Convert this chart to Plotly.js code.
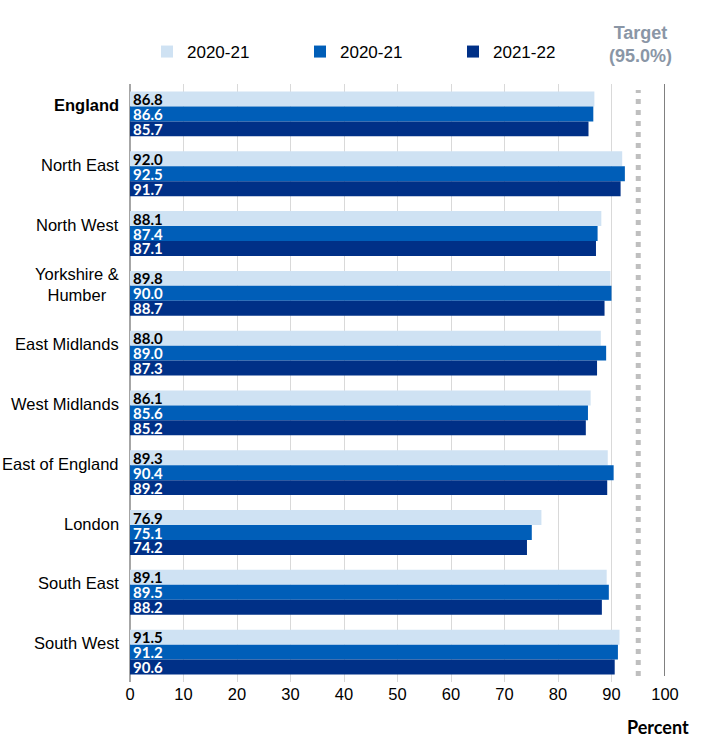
<!DOCTYPE html>
<html><head><meta charset="utf-8">
<script src="https://cdn.plot.ly/plotly-3.0.1.min.js"></script>
<style>html,body{margin:0;padding:0;background:#fff}</style>
</head><body>
<div id="chart" style="width:711px;height:748px"></div>
<script>
const regions = ["England","North East","North West","Yorkshire & Humber","East Midlands","West Midlands","East of England","London","South East","South West"];
const regionLabels = ["<b>England</b>","North East","North West","Yorkshire &<br>Humber","East Midlands","West Midlands","East of England","London","South East","South West"];
const seriesNames = ["2020-21","2020-21","2021-22"];
const valuesA = [86.8,92.0,88.1,89.8,88.0,86.1,89.3,76.9,89.1,91.5];
const valuesB = [86.6,92.5,87.4,90.0,89.0,85.6,90.4,75.1,89.5,91.2];
const valuesC = [85.7,91.7,87.1,88.7,87.3,85.2,89.2,74.2,88.2,90.6];
const xTicks = [0,10,20,30,40,50,60,70,80,90,100];
const targetValue = 95;
const maxValue = 100;

const colors = ["#cfe2f3","#005eb8","#003087"];
const textColors = ["#000000","#ffffff","#ffffff"];
const allVals = [valuesA, valuesB, valuesC];

const traces = allVals.map((v,i)=>({
  type:'bar', orientation:'h', y:regions, x:v, name:seriesNames[i],
  marker:{color:colors[i]},
  text:v.map(d=>d.toFixed(1)), textposition:'inside', insidetextanchor:'start',
  constraintext:'none', cliponaxis:false,
  insidetextfont:{family:'Lato, "Liberation Sans", Arial', size:15, color:textColors[i], weight:'bold'},
  hoverinfo:'x+y'
}));

const annotations = regions.map((r,i)=>({
  xref:'paper', x:0, xanchor:'right', xshift:-9,
  yref:'y', y:r, yanchor:'middle', yshift:9, showarrow:false,
  text:regionLabels[i], align:'center',
  font:{family:'"Liberation Sans", Arial, sans-serif', size:16.5, color:'#000'}
}));
annotations.push({xref:'x', x:targetValue, yref:'paper', y:1, yanchor:'bottom', yshift:16, xshift:2,
  showarrow:false, text:'<b>Target<br>(95.0%)</b>', align:'center',
  font:{family:'"Liberation Sans", Arial, sans-serif', size:18, color:'#8a96a6'}});
annotations.push({xref:'paper', x:1, xanchor:'right', xshift:26, yref:'paper', y:0, yanchor:'top', yshift:-32,
  showarrow:false, text:'<b>Percent</b>',
  font:{family:'Lato, "Liberation Sans", Arial', size:18, color:'#000'}});

const layout = {
  width:711, height:748,
  margin:{l:130, r:46, t:84, b:66, autoexpand:false},
  paper_bgcolor:'#fff', plot_bgcolor:'#fff',
  barmode:'group', bargap:0.25, bargroupgap:0,
  showlegend:true,
  legend:{orientation:'h', xref:'container', x:147/711, xanchor:'left', yref:'container', y:1-34/748, yanchor:'top',
    entrywidth:108, entrywidthmode:'pixels', itemwidth:30,
    font:{family:'"Liberation Sans", Arial, sans-serif', size:17, color:'#000'}, traceorder:'normal', bgcolor:'rgba(0,0,0,0)'},
  xaxis:{range:[0,maxValue], tickvals:xTicks, ticktext:xTicks.map(String), showgrid:true, gridcolor:'#d9d9d9', gridwidth:1,
    zeroline:true, zerolinecolor:'#a6a6a6', zerolinewidth:2, ticks:'', ticklen:0, showline:false,
    tickfont:{family:'"Liberation Sans", Arial, sans-serif', size:16.5, color:'#000'}, fixedrange:true},
  yaxis:{autorange:'reversed', showticklabels:false, showgrid:false, zeroline:false, ticks:'', showline:false},
  shapes:[
    {type:'line', xref:'x', x0:targetValue, x1:targetValue, yref:'paper', y0:0.01, y1:0.99,
      line:{color:'#bfbfbf', width:5, dash:'5px,6px'}},
    {type:'line', xref:'x', x0:maxValue, x1:maxValue, yref:'paper', y0:0.01, y1:1,
      line:{color:'#808080', width:2}}
  ],
  annotations:annotations
};
Plotly.newPlot('chart', traces, layout, {displayModeBar:false, staticPlot:true});
</script>
</body></html>
